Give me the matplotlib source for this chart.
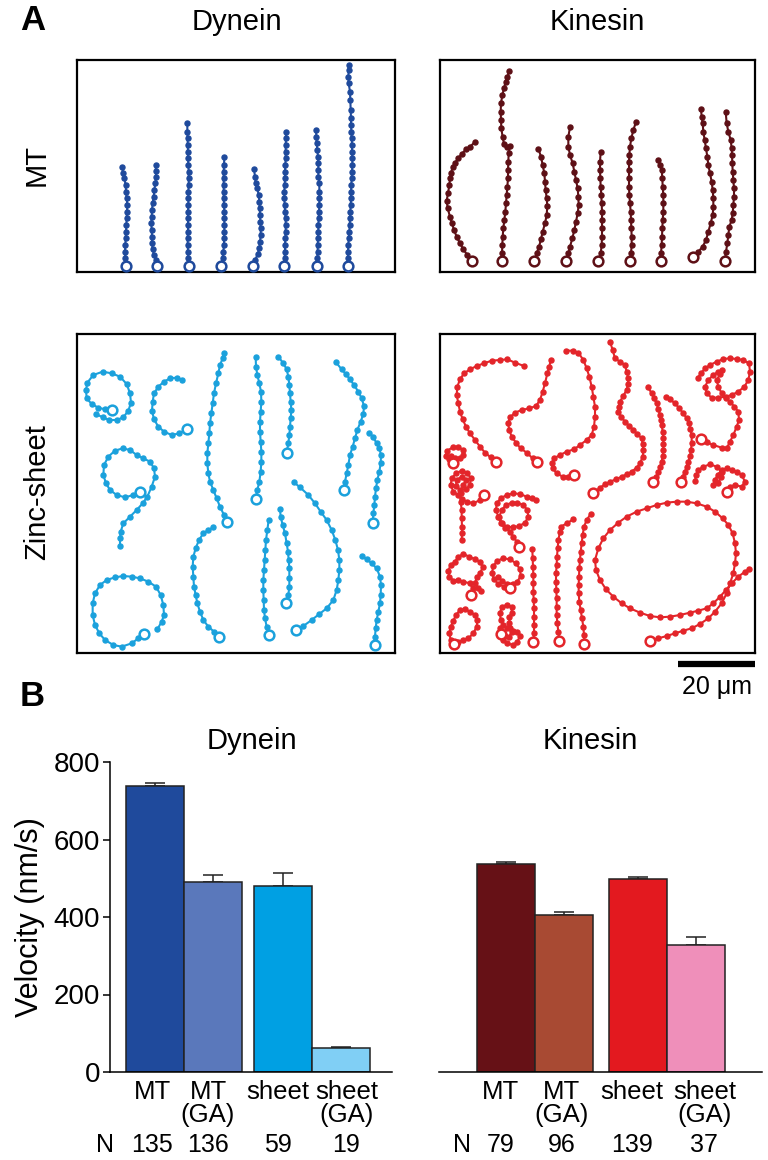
import matplotlib
matplotlib.use("Agg")
import matplotlib.pyplot as plt

plt.rcParams['font.family'] = ['Liberation Sans', 'DejaVu Sans']

# ---- panel A: bead trajectories (image px of the 3x crops, first point = start) ----
dyn_mt_box = (21, 975, 30, 666)
dyn_mt = [
    [(168,647),(166,625),(165,605),(166,585),(167,565),(168,545),(169,525),(170,505),(171,485),(172,465),(170,445),(168,425),(167,405),(163,385),(160,368),(155,350)],
    [(262,647),(258,630),(252,615),(248,598),(246,580),(246,560),(245,540),(244,520),(245,500),(246,480),(248,460),(251,440),(253,420),(256,400),(258,380),(258,362),(257,345)],
    [(356,647),(355,625),(354,605),(353,585),(353,565),(354,545),(354,525),(354,505),(354,485),(355,465),(355,445),(355,425),(356,405),(356,385),(356,365),(355,345),(354,325),(354,305),(353,285),(353,265),(352,245),(352,218)],
    [(453,647),(458,625),(460,605),(462,585),(462,565),(463,545),(463,525),(463,505),(463,485),(462,465),(461,445),(461,425),(461,405),(461,385),(461,365),(462,345),(463,322)],
    [(548,647),(556,630),(563,612),(568,595),(570,575),(572,555),(572,535),(571,515),(570,495),(569,475),(568,455),(566,435),(562,415),(557,400),(555,380),(552,357)],
    [(643,647),(644,625),(645,605),(645,585),(646,565),(647,545),(647,525),(647,505),(645,485),(644,465),(643,445),(643,425),(644,405),(645,385),(645,365),(646,345),(647,325),(647,305),(647,285),(648,265),(648,245)],
    [(740,647),(742,625),(743,605),(743,585),(744,565),(745,545),(745,525),(746,505),(747,485),(748,465),(748,445),(748,425),(748,398),(745,380),(745,360),(745,340),(744,320),(742,300),(740,280),(739,260),(738,240)],
    [(835,647),(834,625),(834,605),(835,585),(836,565),(838,545),(839,525),(840,505),(841,485),(842,465),(843,445),(843,425),(844,405),(845,385),(846,365),(847,345),(847,325),(846,305),(846,285),(845,265),(844,245),(843,225),(843,205),(842,180),(841,150),(840,125),(836,100),(835,80),(836,60),(836,45)],
]

kin_mt_box = (30, 975, 30, 666)
kin_mt = [
    [(125,632),(112,615),(100,598),(90,580),(80,560),(72,540),(66,520),(60,500),(53,475),(50,452),(54,430),(58,405),(60,385),(63,368),(68,352),(75,338),(85,325),(95,312),(108,298),(120,290),(135,276)],
    [(217,632),(216,610),(217,585),(218,560),(220,535),(223,510),(226,485),(228,460),(230,435),(232,410),(234,385),(234,360),(235,335),(236,310),(240,288),(230,290),(222,282),(218,262),(214,235),(213,210),(212,185),(213,160),(217,135),(222,115),(227,95),(232,80),(238,63)],
    [(313,632),(320,610),(327,590),(333,568),(338,545),(345,520),(350,495),(352,468),(350,445),(347,420),(345,395),(343,370),(338,345),(333,320),(325,296)],
    [(408,632),(415,610),(420,590),(427,565),(433,540),(438,515),(443,490),(446,465),(445,440),(443,415),(438,390),(433,365),(428,340),(420,315),(415,290),(415,260),(420,232)],
    [(504,632),(512,610),(515,585),(516,560),(516,535),(516,510),(516,485),(515,460),(514,435),(512,410),(511,385),(510,360),(510,335),(512,306)],
    [(600,632),(603,610),(605,585),(605,560),(604,535),(603,510),(602,485),(600,460),(598,435),(597,410),(597,385),(597,360),(597,335),(598,315),(600,290),(604,265),(610,240),(618,216)],
    [(692,632),(693,610),(695,585),(696,560),(697,535),(698,510),(700,485),(700,460),(700,435),(698,410),(697,385),(695,360),(690,345),(685,330)],
    [(790,622),(805,605),(818,590),(828,570),(835,545),(842,520),(848,495),(850,470),(850,445),(848,420),(845,395),(840,370),(835,345),(832,320),(828,295),(824,270),(820,245),(818,220),(815,200),(813,178)],
    [(885,632),(888,605),(892,580),(895,555),(898,530),(905,510),(908,490),(910,465),(912,440),(912,415),(910,390),(908,365),(907,340),(906,315),(905,295),(902,270),(895,245),(890,220),(887,185)],
]

dyn_zn_box = (21, 975, 12, 969)
dyn_zn = [
    [(125,240),(105,238),(85,233),(65,222),(50,205),(48,180),(52,158),(70,135),(98,125),(125,130),(150,140),(170,162),(180,190),(183,218),(175,242),(160,262),(140,270),(118,270),(98,262),(78,252)],
    [(350,298),(328,310),(305,315),(282,305),(265,290),(252,268),(246,242),(248,215),(252,190),(265,170),(282,155),(300,145),(320,143),(337,150)],
    [(210,487),(190,495),(165,502),(140,495),(120,480),(108,460),(100,435),(102,405),(115,380),(135,362),(158,355),(180,360),(200,375),(220,385),(240,395),(252,415),(255,440),(245,470),(232,500),(218,520),(200,540),(180,560),(160,580),(152,605),(150,625),(150,648)],
    [(222,912),(205,925),(185,940),(155,950),(130,945),(105,930),(88,910),(75,885),(68,855),(68,820),(75,790),(90,765),(110,750),(135,742),(160,738),(185,740),(210,745),(235,755),(258,770),(272,795),(280,825),(282,855),(275,875),(262,898)],
    [(472,575),(462,555),(450,530),(440,505),(430,480),(420,455),(415,430),(412,400),(412,370),(415,340),(418,310),(420,280),(424,250),(428,220),(432,190),(438,160),(445,130),(450,105),(458,85),(462,68)],
    [(557,506),(562,480),(568,455),(572,425),(574,395),(574,365),(572,335),(570,305),(570,275),(572,245),(574,215),(573,185),(568,160),(562,135),(558,110),(557,82)],
    [(650,368),(655,340),(658,315),(660,290),(662,265),(664,240),(662,215),(660,190),(658,165),(655,140),(650,118),(640,100),(625,80)],
    [(823,481),(825,455),(830,430),(835,405),(840,375),(848,350),(855,325),(862,300),(872,275),(880,252),(882,228),(875,205),(865,185),(852,165),(840,148),(828,133),(815,118),(798,97)],
    [(908,578),(910,550),(913,525),(915,500),(918,475),(922,450),(928,425),(932,400),(933,375),(928,355),(920,340),(910,322),(898,308)],
    [(678,900),(700,888),(725,870),(748,852),(770,835),(790,810),(800,780),(805,750),(808,720),(808,690),(804,660),(796,630),(785,600),(770,570),(752,545),(735,520),(715,495),(690,472),(672,457)],
    [(597,915),(590,890),(585,865),(582,840),(581,810),(580,780),(580,750),(582,720),(584,690),(586,660),(588,630),(592,600),(596,570)],
    [(647,820),(655,795),(658,770),(658,745),(658,715),(656,690),(654,665),(650,640),(645,610),(638,585),(632,560),(630,538)],
    [(448,920),(432,905),(415,890),(400,870),(390,845),(382,820),(377,795),(372,770),(370,740),(368,710),(370,680),(377,655),(387,630),(400,610),(415,600),(430,592)],
    [(915,945),(915,920),(917,895),(920,870),(925,845),(930,820),(932,795),(933,765),(930,740),(920,715),(905,700),(890,688),(875,678)],
]

kin_zn_box = (30, 975, 12, 969)
kin_zn = [
    [(197,395),(182,382),(165,368),(150,350),(135,330),(120,310),(108,290),(98,268),(90,245),(85,220),(80,195),(82,170),(90,148),(102,130),(120,118),(140,108),(162,100),(185,92),(210,90),(232,88),(255,98),(282,108)],
    [(322,396),(308,385),(290,368),(272,355),(258,338),(245,320),(238,300),(234,280),(240,262),(255,248),(275,240),(298,235),(318,228),(330,210),(338,185),(345,160),(352,130),(358,110),(362,90)],
    [(432,435),(415,440),(398,440),(380,430),(368,415),(365,400),(372,385),(390,375),(410,365),(432,358),(450,345),(470,330),(485,315),(492,290),(495,260),(495,230),(490,200),(485,170),(478,140),(470,115),(460,90),(445,68),(430,62),(408,62)],
    [(490,490),(510,473),(525,463),(540,455),(558,448),(575,440),(590,433),(605,425),(620,413),(630,400),(638,380),(640,360),(638,342),(635,325),(622,312),(610,300),(598,288),(585,275),(573,260),(565,245),(566,230),(570,215),(580,197),(590,180),(594,162),(595,145),(590,125),(585,105),(570,95),(555,85),(548,60),(540,35)],
    [(670,455),(678,440),(685,425),(690,410),(695,395),(698,378),(700,360),(700,342),(700,325),(698,305),(695,285),(692,270),(690,255),(685,238),(680,220),(672,205),(665,190),(653,170)],
    [(753,455),(758,440),(765,425),(770,410),(775,395),(780,378),(783,360),(785,338),(785,315),(781,298),(777,280),(770,265),(760,250),(748,235),(735,220),(720,208),(707,200)],
    [(813,327),(830,337),(850,345),(875,353),(890,355),(900,335),(910,315),(920,290),(927,270),(925,245),(913,230),(900,215),(887,205),(875,190),(865,170),(860,150),(870,133),(877,120),(865,125),(850,135),(835,150),(825,170),(830,190),(845,203),(865,203),(887,200),(905,195),(925,185),(943,170),(955,150),(960,125),(957,100),(940,90),(920,87),(900,85),(880,87),(860,95),(840,105),(825,115),(813,130),(803,143)],
    [(890,485),(900,470),(915,465),(935,470),(945,455),(935,435),(920,425),(905,420),(890,415),(875,420),(863,435),(855,450),(850,465),(865,460),(873,440),(875,425),(860,410),(840,403),(820,410),(805,420),(798,435),(795,453)],
    [(163,495),(150,510),(130,520),(112,515),(95,508),(85,495),(70,485),(62,465),(65,445),(78,430),(95,422),(112,428),(122,445),(120,465),(108,478),(90,480),(78,468),(80,450),(95,440),(108,450),(100,465),(92,490),(92,515),(95,540),(95,565),(96,590),(96,610),(95,630)],
    [(68,398),(58,388),(47,378),(52,362),(68,352),(85,350),(98,360),(100,375),(90,385),(75,385),(62,378)],
    [(268,652),(260,635),(250,620),(240,605),(225,595),(212,580),(208,560),(215,540),(228,525),(245,518),(262,518),(280,525),(292,540),(295,560),(285,578),(268,588),(248,592),(230,590),(215,578),(205,560),(198,540),(200,520),(212,505),(230,495),(250,490),(270,492),(290,500),(305,505),(318,510)],
    [(122,795),(128,775),(120,760),(100,755),(85,750),(70,752),(58,740),(55,722),(62,705),(75,695),(85,680),(100,672),(118,680),(135,688),(150,695),(158,712),(150,730),(140,742),(135,760),(145,775),(152,782)],
    [(240,775),(222,770),(205,762),(192,748),(186,728),(190,708),(202,692),(220,685),(240,688),(258,700),(270,718),(272,738),(262,755),(250,762),(232,762),(215,752),(205,740)],
    [(72,942),(85,935),(100,930),(115,925),(130,910),(140,890),(142,870),(135,855),(120,845),(105,838),(90,840),(78,855),(70,872),(62,890),(58,910),(62,930),(75,940)],
    [(212,912),(218,930),(232,940),(250,945),(262,935),(270,918),(262,905),(248,903),(240,895),(238,880),(238,862),(245,848),(245,830),(230,825),(215,830),(210,850),(212,870),(220,885),(232,895),(245,905),(238,920),(225,918),(215,905),(210,895)],
    [(310,935),(312,910),(312,885),(312,860),(312,835),(311,810),(310,785),(310,760),(310,735),(309,710),(308,685),(307,658)],
    [(388,932),(385,905),(382,880),(380,855),(380,830),(380,805),(379,780),(378,755),(378,730),(380,705),(381,680),(383,655),(385,630),(390,605),(393,590),(410,580),(430,568)],
    [(463,942),(462,915),(460,890),(456,865),(452,840),(448,815),(446,790),(446,765),(447,740),(448,715),(450,690),(452,665),(455,640),(458,615),(462,590),(470,570),(482,552)],
    [(660,932),(685,925),(710,918),(735,910),(760,902),(785,895),(810,882),(835,865),(855,845),(875,820),(890,790),(900,760),(910,730),(915,700),(918,670),(915,640),(908,610),(895,585),(878,565),(855,545),(830,530),(800,520),(770,515),(740,515),(710,518),(680,525),(650,535),(620,545),(590,560),(565,578),(540,600),(520,625),(505,655),(495,690),(498,720),(510,750),(528,778),(550,800),(575,820),(600,835),(630,848),(660,858),(690,862),(720,860),(750,855),(780,848),(805,842),(830,835),(850,820),(870,800),(888,780),(905,760),(925,740),(945,725),(958,718)],
]

scale_um = 20
px_per_um = 11.55   # crop px per micrometre

# ---- panel B: velocities ----
conditions = ["MT", "MT\n(GA)", "sheet", "sheet\n(GA)"]
dyn_vel = [738, 490, 481, 61]
dyn_err = [8, 18, 33, 4]
dyn_n = [135, 136, 59, 19]
kin_vel = [538, 405, 498, 328]
kin_err = [3, 9, 6, 20]
kin_n = [79, 96, 139, 37]

dyn_colors = ["#1f4a9c", "#5a78bb", "#00a0e3", "#80cff5"]
kin_colors = ["#661116", "#a84a33", "#e3191f", "#ef8fba"]

W, H = 768, 1160
fig = plt.figure(figsize=(W / 100, H / 100), dpi=100)

def rect(l, t, r, b):
    return [l / W, 1 - b / H, (r - l) / W, (b - t) / H]

def traj_panel(pos, trajs, box, color):
    ax = fig.add_axes(pos)
    for tr in trajs:
        xs = [p[0] for p in tr]
        ys = [p[1] for p in tr]
        ax.plot(xs, ys, '-o', color=color, lw=1.5, ms=3.6, mec=color)
        ax.plot(xs[0], ys[0], 'o', ms=7, mfc='white', mec=color, mew=1.8, zorder=3)
    ax.set_xlim(box[0], box[1])
    ax.set_ylim(box[3], box[2])
    ax.set_xticks([])
    ax.set_yticks([])
    for s in ax.spines.values():
        s.set_linewidth(1.6)
    return ax

traj_panel(rect(77, 60, 395, 272), dyn_mt, dyn_mt_box, "#1f4a9c")
traj_panel(rect(440, 60, 755, 272), kin_mt, kin_mt_box, "#5e1016")
traj_panel(rect(77, 334, 395, 653), dyn_zn, dyn_zn_box, "#1ba1dc")
axk = traj_panel(rect(440, 334, 755, 653), kin_zn, kin_zn_box, "#e3252a")

# scale bar
x1 = kin_zn_box[1]
x0 = x1 - scale_um * px_per_um
axk.plot([x0, x1], [1001, 1001], color='black', lw=4.5, solid_capstyle='butt', clip_on=False)
axk.text((x0 + x1) / 2, 1070, "%d μm" % scale_um, ha='center', va='center', fontsize=18)

fig.text(20 / W, 1 - 20 / H, "A", fontsize=25, fontweight='bold', ha='left', va='center')
fig.text(237 / W, 1 - 22 / H, "Dynein", fontsize=21, ha='center', va='center')
fig.text(597 / W, 1 - 22 / H, "Kinesin", fontsize=21, ha='center', va='center')
fig.text(37 / W, 1 - 165 / H, "MT", fontsize=21, rotation=90, ha='center', va='center')
fig.text(37 / W, 1 - 492 / H, "Zinc-sheet", fontsize=21, rotation=90, ha='center', va='center')

fig.text(20 / W, 1 - 697 / H, "B", fontsize=25, fontweight='bold', ha='left', va='center')
fig.text(252 / W, 1 - 741 / H, "Dynein", fontsize=21, ha='center', va='center')
fig.text(590 / W, 1 - 741 / H, "Kinesin", fontsize=21, ha='center', va='center')

def bar_panel(pos, xpos, xlim, vel, err, colors, nvals, show_y, n_x, shift):
    ax = fig.add_axes(pos)
    ax.bar(xpos, vel, width=1.0, color=colors, edgecolor='#222222', linewidth=1.1, zorder=2)
    ax.errorbar(xpos, vel, yerr=[[0] * len(err), err], fmt='none', ecolor='#222222',
                elinewidth=1.1, capsize=7.5, capthick=1.1, zorder=1)
    ax.set_xlim(*xlim)
    ax.set_ylim(0, 800)
    ax.spines['top'].set_visible(False)
    ax.spines['right'].set_visible(False)
    ax.spines['bottom'].set_linewidth(1.1)
    ax.set_xticks([])
    if show_y:
        ax.spines['left'].set_linewidth(1.1)
        ax.set_yticks([0, 200, 400, 600, 800])
        ax.tick_params(axis='y', labelsize=20, length=5, width=1.1, pad=2)
        ax.set_ylabel("Velocity (nm/s)", fontsize=22, labelpad=6)
    else:
        ax.spines['left'].set_visible(False)
        ax.set_yticks([])
    tr = ax.get_xaxis_transform()
    for x, d, lab, n in zip(xpos, shift, conditions, nvals):
        ax.text(x + d, -0.025, lab, transform=tr, fontsize=18.5, ha='center', va='top',
                linespacing=0.95)
        ax.text(x + d, -0.235, str(n), transform=tr, fontsize=18, ha='center', va='center')
    ax.text(n_x, -0.235, "N", transform=ax.transAxes, fontsize=18, ha='center', va='center')
    return ax

bar_panel(rect(110, 762, 392, 1072), [0, 1, 2.2, 3.2], (-0.78, 4.08),
          dyn_vel, dyn_err, dyn_colors, dyn_n, True, -0.018, [-0.05, -0.09, -0.09, 0.095])
bar_panel(rect(439, 762, 762, 1072), [0, 1, 2.27, 3.27], (-1.155, 4.415),
          kin_vel, kin_err, kin_colors, kin_n, False, 0.071, [-0.1, -0.04, -0.1, 0.15])

fig.savefig("out.png", dpi=100)
